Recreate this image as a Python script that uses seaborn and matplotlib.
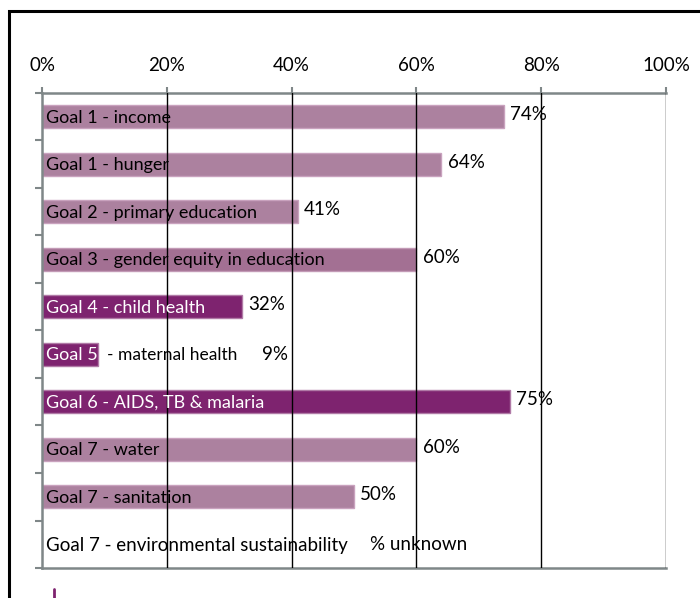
import matplotlib
matplotlib.use("Agg")
import matplotlib.pyplot as plt
import seaborn as sns
import pandas as pd
from matplotlib.patches import Rectangle
from matplotlib.lines import Line2D
from matplotlib.ticker import FixedLocator

# ---- data ----
goals = ["Goal 1 - income", "Goal 1 - hunger", "Goal 2 - primary education",
         "Goal 3 - gender equity in education", "Goal 4 - child health",
         "Goal 5 - maternal health", "Goal 6 - AIDS, TB & malaria",
         "Goal 7 - water", "Goal 7 - sanitation",
         "Goal 7 - environmental sustainability"]
values = [74, 64, 41, 60, 32, 9, 75, 60, 50, 0]
value_labels = ["74%", "64%", "41%", "60%", "32%", "9%", "75%", "60%", "50%", "% unknown"]
bar_colors = ["#AC819F", "#AC819F", "#AC819F", "#A37093", "#7E236F",
              "#7E236F", "#7E236F", "#AC819F", "#AC819F", "#AC819F"]
edge_colors = ["#C9A2BE", "#C9A2BE", "#C9A2BE", "#C29AB6", "#B07AA6",
               "#B07AA6", "#B07AA6", "#C9A2BE", "#C9A2BE", "#C9A2BE"]
text_colors = ["black", "black", "black", "black", "white",
               "white", "white", "black", "black", "black"]
x_ticks = [0, 20, 40, 60, 80, 100]
x_tick_labels = ["0%", "20%", "40%", "60%", "80%", "100%"]

df = pd.DataFrame({"goal": goals, "value": values})

sns.set_theme(style="white")
plt.rcParams["font.family"] = ["Lato", "DejaVu Sans"]

fig = plt.figure(figsize=(7.0, 5.98), dpi=100)
ax = fig.add_axes([42/700, 1-568/598, 624/700, 475/598])

sns.barplot(data=df, y="goal", x="value", hue="goal", palette=bar_colors,
            orient="h", width=0.48, legend=False, ax=ax, saturation=1)

for patch, ec in zip(ax.patches, edge_colors):
    patch.set_edgecolor(ec)
    patch.set_linewidth(1.0)

ax.set_xlim(0, 100)
ax.set_ylim(9.5, -0.5)
ax.set_xlabel("")
ax.set_ylabel("")

# top axis
ax.xaxis.tick_top()
ax.set_xticks(x_ticks)
ax.set_xticklabels(x_tick_labels, fontsize=13.5, color="black")
ax.tick_params(axis="x", which="major", direction="out", length=4, width=1.5,
               color="#7F8788", pad=10, top=True, bottom=False)

# y ticks at category boundaries
ax.set_yticks([])
ax.yaxis.set_minor_locator(FixedLocator([i - 0.5 for i in range(len(goals) + 1)]))
ax.tick_params(axis="y", which="minor", direction="out", length=5, width=1.5,
               color="#7F8788", left=True)

for side in ["top", "bottom", "left"]:
    ax.spines[side].set_visible(True)
    ax.spines[side].set_color("#7F8788")
    ax.spines[side].set_linewidth(1.8)
ax.spines["right"].set_visible(False)

# vertical gridlines drawn over bars
ax.set_axisbelow(False)
ax.grid(False)
for xv in x_ticks[1:]:
    ax.axvline(xv, color="black", linewidth=1.0, zorder=3)

# labels
fs = 13
for i, (g, v, lab, tc) in enumerate(zip(goals, values, value_labels, text_colors)):
    if g.startswith("Goal 5"):
        ax.text(0.6, i + 0.02, "Goal 5", color="white", va="center", ha="left",
                fontsize=fs, zorder=5)
        ax.text(10.4, i + 0.02, "- maternal health", color="black", va="center",
                ha="left", fontsize=12.5, zorder=5)
        ax.text(35.3, i, lab, color="black", va="center", ha="left",
                fontsize=13.5, zorder=5)
    elif v == 0:
        ax.text(0.6, i + 0.02, g, color=tc, va="center", ha="left",
                fontsize=13.5, zorder=5)
        ax.text(52.6, i, lab, color="black", va="center", ha="left",
                fontsize=13.5, zorder=5)
    else:
        ax.text(0.6, i + 0.02, g, color=tc, va="center", ha="left", fontsize=fs,
                zorder=5)
        ax.text(v + 1.0, i - 0.04, lab, color="black", va="center", ha="left",
                fontsize=13.5, zorder=5)

# figure frame and stray legend mark
fig.add_artist(Rectangle((9/700, -0.1), 1.2, 1 - 11/598 + 0.1,
                         transform=fig.transFigure, fill=False,
                         edgecolor="black", linewidth=2.2, clip_on=False))
fig.add_artist(Line2D([54/700, 54/700], [0, 1 - 589/598],
                      transform=fig.transFigure, color="#7E236F", linewidth=2))

fig.savefig("out.png", dpi=100)
